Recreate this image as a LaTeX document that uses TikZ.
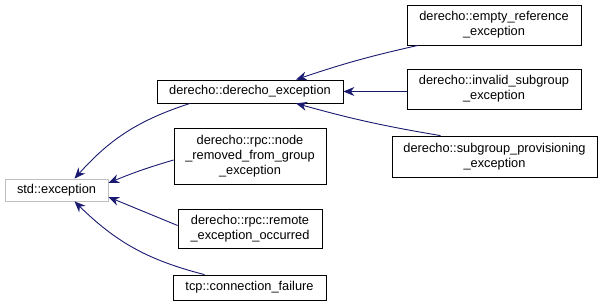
\documentclass[tikz,border=0pt]{standalone}
\usepackage{fontspec}
\setmainfont{Liberation Sans}
\usetikzlibrary{arrows.meta}

\definecolor{edgeblue}{HTML}{191970}

\begin{document}
\begin{tikzpicture}[x=1pt,y=-1pt,<-,>={Stealth[length=11pt,width=9pt]},
	       edgeblue,line width=0.9pt,
	       class node/.style={rectangle,draw=black,line width=0.8pt,text=black,fill=white,
	         align=center,inner sep=0pt,font=\fontsize{12.8}{15}\selectfont},
	       std node/.style={class node,draw=black!25}]

	      \useasboundingbox (0,0) rectangle (601,307);

	      \node[std node,minimum width=103,minimum height=22] at (56.5,190) (std) {std::exception};
	      \node[class node,minimum width=186,minimum height=23] at (250,91.5) (dex) {derecho::derecho\_exception};
	      \node[class node,minimum width=152,minimum height=56] at (250,156) (removed) {derecho::rpc::node\\\_removed\_from\_group\\\_exception};
	      \node[class node,minimum width=144,minimum height=39] at (250,228.5) (remote) {derecho::rpc::remote\\\_exception\_occurred};
	      \node[class node,minimum width=153,minimum height=25] at (249.5,287.5) (tcp) {tcp::connection\_failure};
	      \node[class node,minimum width=174,minimum height=40] at (494,25) (empty) {derecho::empty\_reference\\\_exception};
	      \node[class node,minimum width=174,minimum height=40] at (494,89) (invalid) {derecho::invalid\_subgroup\\\_exception};
	      \node[class node,minimum width=205,minimum height=41] at (494.5,156.5) (subprov) {derecho::subgroup\_provisioning\\\_exception};

	      \path
	      ([xshift=18pt]std.north) edge [bend left=15] ([xshift=-60pt]dex.south)
	      ([yshift=7pt]std.east) edge [bend left=3] ([yshift=-4pt]removed.west)
	      ([yshift=-7pt]std.east) edge ([yshift=3pt]remote.west)
	      ([xshift=18pt]std.south) edge [bend right=15] ([xshift=-45pt]tcp.north)
	      ;
	      \path
	      ([xshift=46pt]dex.north) edge [bend left=3] ([xshift=-76pt]empty.south)
	      (dex.east) edge ([yshift=-2.5pt]invalid.west)
	      ([xshift=46pt]dex.south) edge [bend right=3] ([xshift=-54pt]subprov.north)
	      ;

	    \end{tikzpicture}
\end{document}
